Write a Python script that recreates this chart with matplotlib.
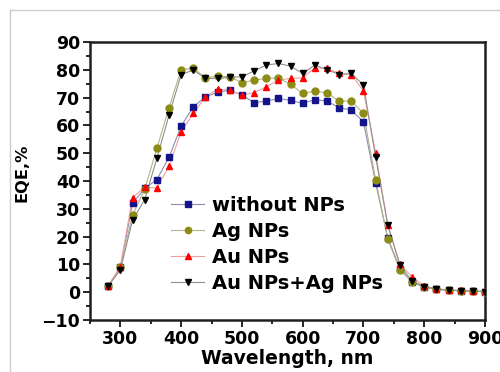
import matplotlib.pyplot as plt
from matplotlib.lines import Line2D
from matplotlib.ticker import MultipleLocator

plt.rcParams["font.family"] = ["DejaVu Sans"]
plt.rcParams["font.weight"] = "bold"

wavelength = list(range(280, 901, 20))

eqe_none = [2.2, 9.0, 32.0, 37.3, 40.5, 48.5, 59.8, 66.7, 70.3, 71.9, 72.7, 70.9,
            68.2, 68.7, 69.7, 69.0, 67.9, 69.3, 68.7, 66.4, 65.5, 61.3, 39.3, 19.5,
            8.5, 3.5, 1.8, 1.1, 0.7, 0.5, 0.3, 0.2]
eqe_ag = [2.2, 9.0, 27.7, 37.0, 51.7, 66.4, 80.1, 80.5, 77.2, 77.7, 77.5, 75.4,
          76.3, 76.9, 77.1, 74.8, 71.5, 72.3, 71.7, 68.8, 68.7, 64.3, 40.5, 19.1,
          7.9, 3.7, 1.8, 1.0, 0.7, 0.5, 0.3, 0.2]
eqe_au = [2.2, 9.2, 34.0, 37.7, 37.5, 45.3, 57.7, 64.3, 70.3, 73.0, 72.7, 70.9,
          71.8, 73.9, 76.3, 76.9, 77.1, 80.7, 80.5, 78.8, 78.3, 72.4, 50.1, 24.1,
          10.0, 5.5, 2.2, 1.2, 0.8, 0.6, 0.4, 0.3]
eqe_auag = [2.2, 8.0, 25.9, 33.3, 48.1, 63.7, 78.3, 79.9, 76.9, 76.9, 77.3, 77.5,
            79.6, 81.7, 82.3, 81.3, 78.7, 81.7, 80.1, 78.3, 78.7, 74.5, 48.7, 24.1,
            9.7, 4.0, 2.0, 1.1, 0.7, 0.5, 0.3, 0.2]

series = [
    ("without NPs", eqe_none, "s", "#14148a", "#8c8cb4"),
    ("Ag NPs", eqe_ag, "o", "#8c8c14", "#b4b48c"),
    ("Au NPs", eqe_au, "^", "#ff0000", "#f0a0a0"),
    ("Au NPs+Ag NPs", eqe_auag, "v", "#000000", "#909090"),
]

fig = plt.figure(figsize=(5, 3.72), dpi=100)
ax = fig.add_axes([0.18, 0.14, 0.79, 0.747])

handles = []
for label, y, marker, mcolor, lcolor in series:
    ax.plot(wavelength, y, color=lcolor, lw=0.8, zorder=2)
    ax.plot(wavelength, y, ls="none", marker=marker, ms=5,
            color=mcolor, mec=mcolor, zorder=3)
    handles.append(Line2D([0], [0], color=lcolor, lw=0.8, marker=marker,
                          ms=4.5, mfc=mcolor, mec=mcolor, label=label))

ax.set_xlim(250, 900)
ax.set_ylim(-10, 90)
ax.xaxis.set_major_locator(MultipleLocator(100))
ax.xaxis.set_minor_locator(MultipleLocator(50))
ax.yaxis.set_major_locator(MultipleLocator(10))
ax.yaxis.set_minor_locator(MultipleLocator(5))
ax.set_xticks(range(300, 901, 100))

for side in ax.spines.values():
    side.set_linewidth(1.8)
    side.set_color("#202020")
ax.tick_params(which="both", direction="out", width=1.2, labelsize=12.5,
               top=False, right=False, pad=2)
ax.tick_params(which="major", length=5)
ax.tick_params(which="minor", length=3)
for t in ax.get_xticklabels() + ax.get_yticklabels():
    t.set_fontweight("bold")

ax.set_xlabel("Wavelength, nm", fontsize=13.5, fontweight="bold", labelpad=1)
ax.set_ylabel("EQE,%", fontsize=11.7, fontweight="bold")
ax.yaxis.set_label_coords(-0.152, 0.53)

ax.legend(handles=handles, loc="upper left", bbox_to_anchor=(0.205, 0.445),
          frameon=False, prop={"size": 14, "weight": "bold"},
          borderpad=0, borderaxespad=0,
          handlelength=1.7, handletextpad=0.4, labelspacing=0.36)

# thin grey frame of the original picture
fig.add_artist(Line2D([0.02, 0.02], [0, 0.973], color="#cccccc", lw=1))
fig.add_artist(Line2D([0.02, 1], [0.973, 0.973], color="#cccccc", lw=1))

fig.savefig("out.png", dpi=100)
